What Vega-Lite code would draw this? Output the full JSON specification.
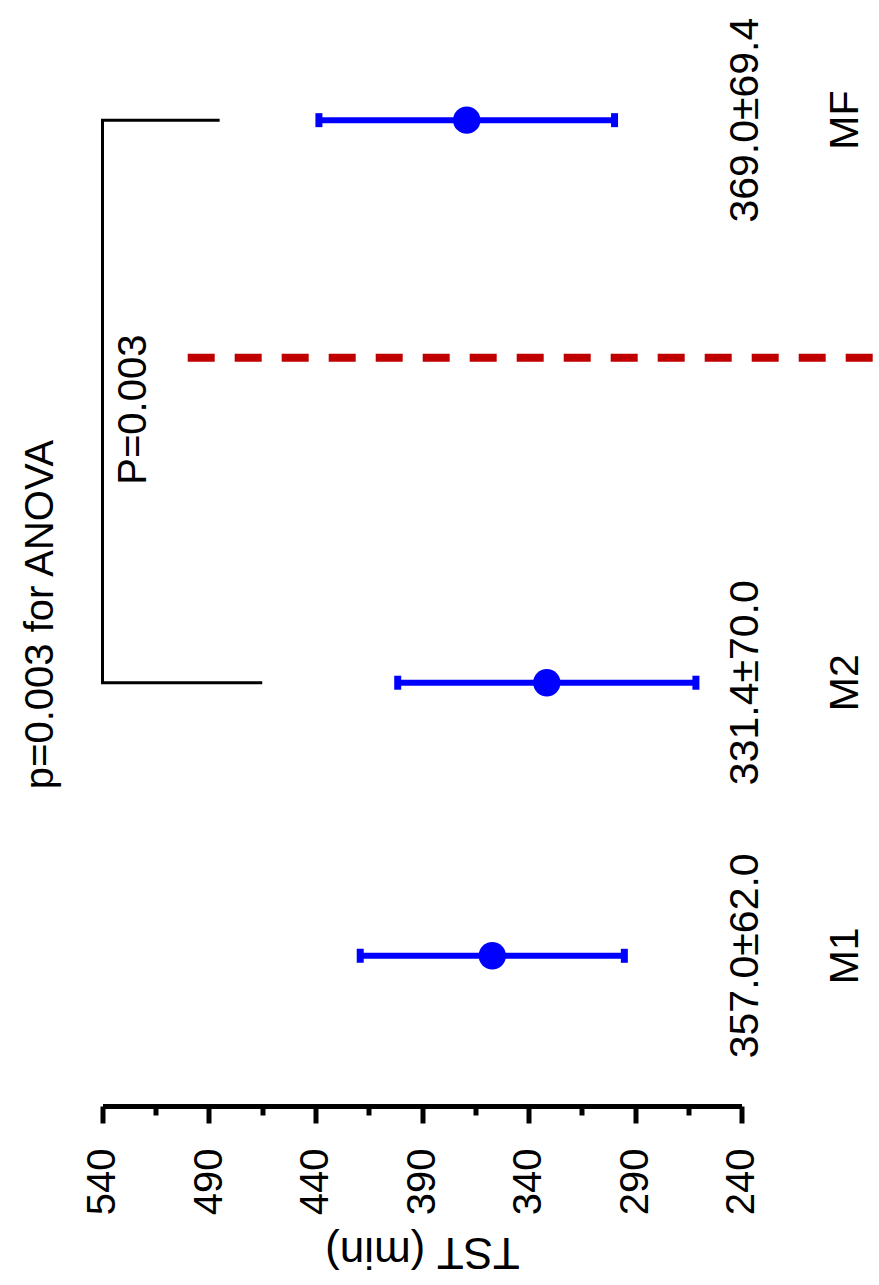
{
  "$schema": "https://vega.github.io/schema/vega-lite/v6.json",
  "width": 639,
  "height": 1106,
  "autosize": "none",
  "padding": {"left": 102.5, "top": 0, "right": 137.5, "bottom": 179},
  "background": "white",
  "config": {"view": {"stroke": null}, "font": "Liberation Sans"},
  "datasets": {
    "groups": [
      {"group": "M1", "pos": 1, "mean": 357.0, "sd": 62.0, "label": "357.0±62.0"},
      {"group": "M2", "pos": 2, "mean": 331.4, "sd": 70.0, "label": "331.4±70.0"},
      {"group": "MF", "pos": 4.06, "mean": 369.0, "sd": 69.4, "label": "369.0±69.4"}
    ],
    "bracket": [
      {"v": 485, "pos": 4.06, "ord": 1},
      {"v": 540, "pos": 4.06, "ord": 2},
      {"v": 540, "pos": 2, "ord": 3},
      {"v": 465, "pos": 2, "ord": 4}
    ],
    "refline": [{"v": 500, "v2": 170, "pos": 3.19}],
    "notes": [
      {"text": "P=0.003", "v": 525, "pos": 3.0},
      {"text": "p=0.003 for ANOVA", "v": 569, "pos": 2.25}
    ]
  },
  "layer": [
    {
      "data": {"name": "groups"},
      "mark": {"type": "errorbar", "color": "#0000FF", "opacity": 1, "rule": {"strokeWidth": 6, "opacity": 1}, "ticks": {"size": 14, "thickness": 7, "opacity": 1}},
      "encoding": {
        "x": {
          "field": "mean", "type": "quantitative",
          "scale": {"domain": [240, 540], "reverse": true, "nice": false, "zero": false},
          "axis": {
            "title": "TST (min)",
            "values": [240, 265, 290, 315, 340, 365, 390, 415, 440, 465, 490, 515, 540],
            "labelExpr": "datum.value % 50 == 40 ? datum.label : ''",
            "tickSize": {"condition": {"test": "datum.value % 50 == 40", "value": 17}, "value": 9},
            "tickWidth": 5, "tickColor": "black",
            "domainWidth": 5, "domainColor": "black",
            "grid": false,
            "labelFontSize": 40, "labelColor": "black", "labelAngle": 270,
            "labelPadding": 25, "labelFlush": false, "labelOverlap": false,
            "titleFontSize": 44, "titleFontWeight": "normal", "titleColor": "black",
            "titleAngle": 180, "titleBaseline": "bottom", "titlePadding": 14
          }
        },
        "xError": {"field": "sd"},
        "y": {"field": "pos", "type": "quantitative", "scale": {"domain": [0.45, 4.5], "nice": false, "zero": false}, "axis": null}
      }
    },
    {
      "data": {"name": "groups"},
      "mark": {"type": "circle", "color": "#0000FF", "opacity": 1, "size": 750},
      "encoding": {
        "x": {"field": "mean", "type": "quantitative"},
        "y": {"field": "pos", "type": "quantitative", "axis": null}
      }
    },
    {
      "data": {"name": "groups"},
      "mark": {"type": "text", "angle": 270, "fontSize": 41, "align": "center", "baseline": "middle", "color": "black"},
      "encoding": {
        "x": {"datum": 238, "type": "quantitative"},
        "y": {"field": "pos", "type": "quantitative", "axis": null},
        "text": {"field": "label"}
      }
    },
    {
      "data": {"name": "groups"},
      "mark": {"type": "text", "angle": 270, "fontSize": 41, "align": "center", "baseline": "middle", "color": "black"},
      "encoding": {
        "x": {"datum": 191, "type": "quantitative"},
        "y": {"field": "pos", "type": "quantitative", "axis": null},
        "text": {"field": "group"}
      }
    },
    {
      "data": {"name": "bracket"},
      "mark": {"type": "line", "color": "black", "strokeWidth": 3},
      "encoding": {
        "x": {"field": "v", "type": "quantitative"},
        "y": {"field": "pos", "type": "quantitative", "axis": null},
        "order": {"field": "ord"}
      }
    },
    {
      "data": {"name": "refline"},
      "mark": {"type": "rule", "color": "#C00000", "strokeWidth": 8, "strokeDash": [27, 20]},
      "encoding": {
        "x": {"field": "v", "type": "quantitative"},
        "x2": {"field": "v2"},
        "y": {"field": "pos", "type": "quantitative", "axis": null}
      }
    },
    {
      "data": {"name": "notes"},
      "mark": {"type": "text", "angle": 270, "fontSize": 40, "align": "center", "baseline": "middle", "color": "black"},
      "encoding": {
        "x": {"field": "v", "type": "quantitative"},
        "y": {"field": "pos", "type": "quantitative", "axis": null},
        "text": {"field": "text"}
      }
    }
  ]
}
